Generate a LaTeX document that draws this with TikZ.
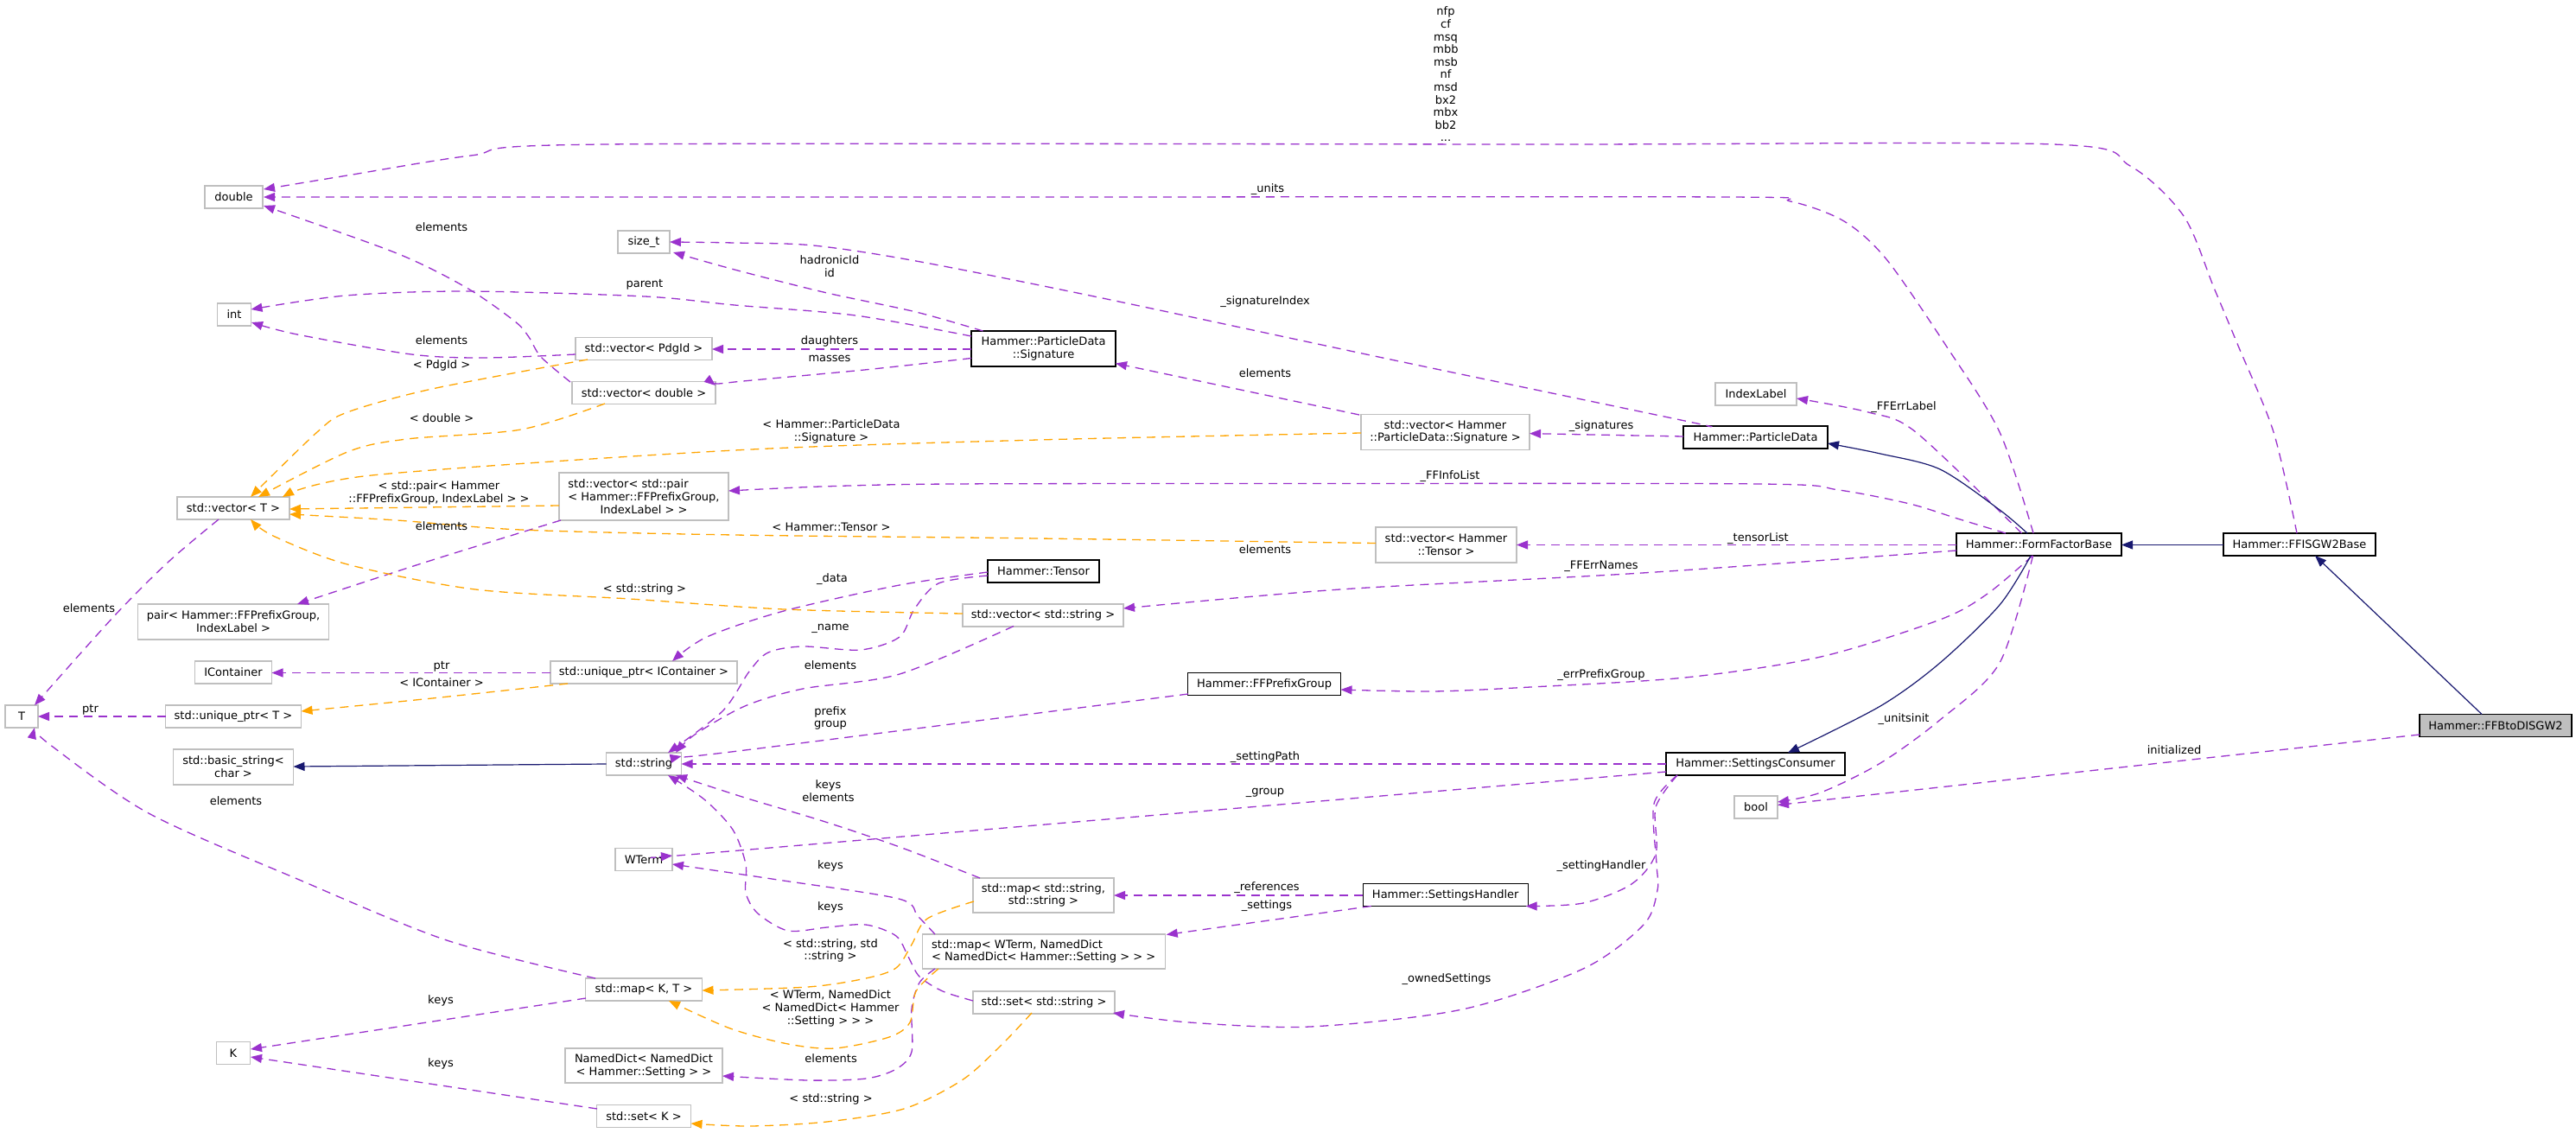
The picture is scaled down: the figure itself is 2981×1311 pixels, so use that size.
\documentclass[tikz,border=0pt]{standalone}
\usepackage{fontspec}
\setmainfont{DejaVu Sans}
\usetikzlibrary{arrows.meta,calc}
\definecolor{grey75}{HTML}{BFBFBF}
\definecolor{orchid}{HTML}{9A32CD}
\definecolor{tplorange}{HTML}{FFA500}
\definecolor{midblue}{HTML}{191970}
\newcommand\dgf{\fontsize{13}{14.8}\selectfont}
\begin{document}
\begin{tikzpicture}[x=1pt,y=-1pt,
  cls/.style={draw=grey75, line width=1.3pt, fill=white, inner sep=0pt, align=center, font=\dgf, minimum height=26pt},
  doc/.style={cls, draw=black},
  rel/.style={draw=orchid, line width=1.3pt, dash pattern=on 10pt off 7pt, -{Triangle[length=13pt,width=10pt]}},
  tpl/.style={rel, draw=tplorange},
  inh/.style={draw=midblue, line width=1.2pt, -{Triangle[length=13pt,width=10pt]}},
  lbl/.style={font=\dgf, align=center, inner sep=0pt},
]
\useasboundingbox[fill=white] (0,0) rectangle (2981,1311);

% ---------- nodes ----------
\node[cls, minimum width=67pt] (double) at (270.5,228) {double};
\node[cls, minimum width=60pt] (sizet) at (745,280) {size\_t};
\node[cls, minimum width=39pt] (int) at (271,364) {int};
\node[cls, minimum width=158pt] (vpdg) at (745,403.5) {std::vector< PdgId >};
\node[cls, minimum width=166pt] (vdbl) at (745,454.5) {std::vector< double >};
\node[cls, minimum width=130pt] (vT) at (270,588) {std::vector< T >};
\node[cls, minimum width=196pt, minimum height=55pt] (vpair) at (745,574.5) {\begin{tabular}[b]{@{}l@{}}std::vector< std::pair\\< Hammer::FFPrefixGroup,\end{tabular}\\IndexLabel > >};
\node[cls, minimum width=221pt, minimum height=41pt] (pair) at (270,719.5) {pair< Hammer::FFPrefixGroup,\\IndexLabel >};
\node[cls, minimum width=89pt] (icont) at (270,778) {IContainer};
\node[cls, minimum width=216pt] (uic) at (745,778) {std::unique\_ptr< IContainer >};
\node[cls, minimum width=38pt] (T) at (25,829) {T};
\node[cls, minimum width=157pt] (upT) at (270,829) {std::unique\_ptr< T >};
\node[cls, minimum width=139pt, minimum height=41pt] (bstr) at (270,887.5) {std::basic\_string<\\char >};
\node[cls, minimum width=87pt] (str) at (745,884) {std::string};
\node[cls, minimum width=66pt] (wterm) at (745,994.5) {WTerm};
\node[cls, minimum width=135pt] (mapKT) at (745,1145) {std::map< K, T >};
\node[cls, minimum width=39pt] (K) at (270,1218.5) {K};
\node[cls, minimum width=182pt, minimum height=40pt] (ndict) at (745,1233) {NamedDict< NamedDict\\< Hammer::Setting > >};
\node[cls, minimum width=109pt] (setK) at (745,1291.5) {std::set< K >};

\node[doc, minimum width=167pt, minimum height=41pt] (sig) at (1207.5,403.5) {Hammer::ParticleData\\::Signature};
\node[doc, minimum width=129pt] (tensor) at (1207.5,661) {Hammer::Tensor};
\node[cls, minimum width=186pt] (vstr) at (1207,712) {std::vector< std::string >};
\node[doc, minimum width=177pt] (ffpg) at (1463,791.5) {Hammer::FFPrefixGroup};
\node[cls, minimum width=163pt, minimum height=40pt] (mapSS) at (1207.5,1036) {std::map< std::string,\\std::string >};
\node[cls, minimum width=281pt, minimum height=40pt, align=left] (mapW) at (1207.7,1101) {std::map< WTerm, NamedDict\\< NamedDict< Hammer::Setting > > >};
\node[cls, minimum width=164pt] (setS) at (1208,1160) {std::set< std::string >};

\node[cls, minimum width=195pt, minimum height=41pt] (vsig) at (1672.5,500) {std::vector< Hammer\\::ParticleData::Signature >};
\node[cls, minimum width=163pt, minimum height=41pt] (vten) at (1673.5,630.5) {std::vector< Hammer\\::Tensor >};
\node[doc, minimum width=191pt] (shandler) at (1672.7,1035.5) {Hammer::SettingsHandler};

\node[cls, minimum width=94pt] (idxl) at (2032,456) {IndexLabel};
\node[doc, minimum width=167pt] (pdata) at (2031.5,506) {Hammer::ParticleData};
\node[doc, minimum width=191pt] (ffb) at (2359.5,630) {Hammer::FormFactorBase};
\node[doc, minimum width=207pt] (scons) at (2031.5,884) {Hammer::SettingsConsumer};
\node[cls, minimum width=50pt] (bool) at (2032,934) {bool};
\node[doc, minimum width=176pt] (ffisgw) at (2661,630) {Hammer::FFISGW2Base};
\node[doc, minimum width=176pt, fill=grey75] (ffbto) at (2888,839.5) {Hammer::FFBtoDISGW2};

% ---------- edge end points ----------
\coordinate (a1) at ($(ffisgw)+(-3,-13)$);   \coordinate (b1) at ($(double)+(34.5,-9)$);
\coordinate (a2) at ($(ffb)+(-6.5,-13)$);    \coordinate (b2) at ($(double)+(34.5,0)$);
\coordinate (a3) at ($(pdata)+(-55.5,-13)$); \coordinate (b3) at ($(sizet)+(30,0)$);
\coordinate (a4) at ($(sig)+(-70,-20.5)$);   \coordinate (b4) at ($(sizet)+(34,12)$);
\coordinate (a5) at ($(sig)+(-83.5,-14.5)$); \coordinate (b5) at ($(int)+(19.5,-6)$);
\coordinate (a7) at ($(sig)+(-83.5,11)$);    \coordinate (b7) at ($(vdbl)+(83,-8.5)$);
\coordinate (a8) at ($(vdbl)+(-85,-12.5)$);  \coordinate (b8) at ($(double)+(34.5,10)$);
\coordinate (a9) at ($(vpdg)+(-79,6.5)$);    \coordinate (b9) at ($(int)+(20,9)$);
\coordinate (a10) at ($(vpdg)+(-65,12.5)$);  \coordinate (b10) at ($(vT)+(20,-13)$);
\coordinate (a11) at ($(vdbl)+(-45,12.5)$);  \coordinate (b11) at ($(vT)+(29,-13)$);
\coordinate (a12) at ($(vsig)+(-97.5,1)$);   \coordinate (b12) at ($(vT)+(57,-13)$);
\coordinate (a14) at ($(vten)+(-81.5,-2)$);  \coordinate (b14) at ($(vT)+(65,7)$);
\coordinate (a15) at ($(vstr)+(-93,-2)$);    \coordinate (b15) at ($(vT)+(20,13)$);
\coordinate (a16) at ($(vT)+(-17,13)$);      \coordinate (b16) at ($(T)+(15,-13)$);
\coordinate (a17) at ($(vpair)+(-96,27.5)$); \coordinate (b17) at ($(pair)+(74,-20.5)$);
\coordinate (a20) at ($(ffb)+(-38.5,-13)$);  \coordinate (b20) at ($(vpair)+(98,-6.5)$);
\coordinate (a21) at ($(ffb)+(-20,-13)$);    \coordinate (b21) at ($(idxl)+(47,5)$);
\coordinate (a23) at ($(ffb)+(-95.5,7)$);    \coordinate (b23) at ($(vstr)+(93,-8)$);
\coordinate (a24) at ($(ffb)+(-7.5,13)$);    \coordinate (b24) at ($(ffpg)+(88.5,6.5)$);
\coordinate (a25) at ($(ffb)+(-7,13)$);      \coordinate (b25) at ($(bool)+(25,-6)$);
\coordinate (a26) at ($(ffb)+(-13.5,-13)$);  \coordinate (b26) at ($(pdata)+(83.5,7)$);
\coordinate (a27) at ($(ffb)+(-9.5,13)$);    \coordinate (b27) at ($(scons)+(37.5,-13)$);
\coordinate (a32) at ($(scons)+(-103.5,9)$); \coordinate (b32) at ($(wterm)+(33,-4.5)$);
\coordinate (a33) at ($(scons)+(-90.5,13)$); \coordinate (b33) at ($(shandler)+(93,13)$);
\coordinate (b34) at ($(setS)+(80,12)$);
\coordinate (a37) at ($(ffpg)+(-88,11.5)$);  \coordinate (b37) at ($(str)+(43.5,-9)$);
\coordinate (a38) at ($(tensor)+(-64.5,1)$); \coordinate (b38) at ($(uic)+(33,-13)$);
\coordinate (a39) at ($(tensor)+(-64.5,5)$); \coordinate (b39) at ($(str)+(28,-13)$);
\coordinate (a40) at ($(vstr)+(-34,12.5)$);  \coordinate (b40) at ($(str)+(37,-13)$);
\coordinate (a41) at ($(mapSS)+(-73.5,-20)$);\coordinate (b41) at ($(str)+(37,13)$);
\coordinate (a42) at ($(mapSS)+(-80.5,7)$);  \coordinate (b42) at ($(mapKT)+(67.5,1)$);
\coordinate (a43) at ($(mapW)+(-125.7,-20)$);\coordinate (b43) at ($(wterm)+(33,5.5)$);
\coordinate (a44) at ($(mapW)+(-125.7,20)$); \coordinate (b44) at ($(ndict)+(91,12)$);
\coordinate (a45) at ($(mapW)+(-121.7,20)$); \coordinate (b45) at ($(mapKT)+(29,13)$);
\coordinate (a46) at ($(setS)+(-82,-2)$);    \coordinate (b46) at ($(str)+(28,13)$);
\coordinate (a47) at ($(setS)+(-14,12)$);    \coordinate (b47) at ($(setK)+(54.5,8.5)$);
\coordinate (a48) at ($(mapKT)+(-56,-13)$);  \coordinate (b48) at ($(T)+(15,13)$);
\coordinate (a52) at ($(uic)+(-88,13)$);     \coordinate (b52) at ($(upT)+(78.5,-6)$);

% ---------- member relations (purple) ----------
\draw[rel] plot[smooth,tension=.5] coordinates {(a1) (2631,500) (2590,400) (2562,333) (2527,250) (2465,192) (2376,167) (1800,167) (700,167) (545,180) (402,203) (b1)};
\draw[rel] plot[smooth,tension=.5] coordinates {(a2) (2314,500) (2252,400) (2183,300) (2134,256) (2072,233) (2000,228) (1200,228) (b2)};
\draw[rel] plot[smooth,tension=.5] coordinates {(a3) (1945,486) (1600,414) (1271,344) (1060,302) (941,284) (850,281) (b3)};
\draw[rel] plot[smooth,tension=.5] coordinates {(a4) (1060,361) (955,338.5) (850,312) (b4)};
\draw[rel] plot[smooth,tension=.5] coordinates {(a5) (990,365) (850,353) (746,343) (540,337) (400,342) (b5)};
\draw[rel] ($(sig)+(-83.5,0.5)$) -- ($(vpdg)+(79,0.5)$);
\draw[rel] plot[smooth,tension=.5] coordinates {(a7) (1000,428) (850,442) (b7)};
\draw[rel] plot[smooth,tension=.5] coordinates {(a8) (626,413) (612,390) (596,372) (540,333) (459,293) (b8)};
\draw[rel] plot[smooth,tension=.5] coordinates {(a9) (560,414) (476,410) (344,387) (b9)};
\draw[rel] plot[smooth,tension=.5] coordinates {(a16) (195,650) (132,713) (b16)};
\draw[rel] plot[smooth,tension=.5] coordinates {(a17) (494,650) (b17)};
\draw[rel] ($(vsig)+(-99.5,-20)$) -- ($(sig)+(83.5,17)$);
\draw[rel] ($(pdata)+(-83.5,-1)$) -- ($(vsig)+(97.5,1.6)$);
\draw[rel] plot[smooth,tension=.5] coordinates {(a20) (2265,600) (2210,583) (2128,567) (2038,560) (1500,559.5) (1100,560) (950,563) (b20)};
\draw[rel] plot[smooth,tension=.5] coordinates {(a21) (2217,500) (2162,477) (b21)};
\draw[rel] ($(ffb)+(-95.5,0.5)$) -- ($(vten)+(81.5,0)$);
\draw[rel] plot[smooth,tension=.5] coordinates {(a23) (1900,663) (1551,682) (b23)};
\draw[rel] plot[smooth,tension=.5] coordinates {(a24) (2300,687) (2245,717) (2107,760) (1950,784) (1762,795.5) (1657,800) (b24)};
\draw[rel] plot[smooth,tension=.5] coordinates {(a25) (2314,767) (2245,833) (2176,883) (2107,917) (b25)};
\draw[rel] ($(ffbto)+(-88,10.5)$) -- ($(bool)+(25,-2.5)$);
\draw[rel] ($(scons)+(-103.5,0)$) -- ($(str)+(43.5,0)$);
\draw[rel] plot[smooth,tension=.5] coordinates {(a32) (850,984.5) (b32)};
\draw[rel] plot[smooth,tension=.5] coordinates {(a33) (1916,934) (1916,988) (1888,1023) (1832,1045) (b33)};
\draw[rel] plot[smooth,tension=.5] coordinates {(a33) (1914,930) (1917,1000) (1918,1030) (1902,1070) (1832,1121) (1692,1168) (1516,1188) (1376,1183) (b34)};
\draw[rel] ($(shandler)+(-95.5,0.5)$) -- ($(mapSS)+(81.5,0)$);
\draw[rel] ($(shandler)+(-86,13)$) -- ($(mapW)+(142,-19.5)$);
\draw[rel] plot[smooth,tension=.5] coordinates {(a37) (850,869.5) (b37)};
\draw[rel] plot[smooth,tension=.5] coordinates {(a38) (1041,677) (907,707) (818,737) (b38)};
\draw[rel] plot[smooth,tension=.5] coordinates {(a39) (1086,675) (1058,705) (1041,737) (996,752) (929,748) (889,755) (867,777) (836,823) (b39)};
\draw[rel] plot[smooth,tension=.5] coordinates {(a40) (1041,780) (929,797) (862,817) (804,850) (b40)};
\draw[rel] plot[smooth,tension=.5] coordinates {(a41) (1041,980) (952,950) (862,923) (b41)};
\draw[rel] plot[smooth,tension=.5] coordinates {(a43) (1062,1060) (1040,1040) (900,1018) (b43)};
\draw[rel] plot[smooth,tension=.5] coordinates {(a44) (1064,1137) (1055,1167) (1055,1217) (1037,1237) (1002,1248) (935,1250) (b44)};
\draw[rel] plot[smooth,tension=.5] coordinates {(a46) (1091,1147) (1064,1130) (1051,1107) (1037,1083) (1002,1070) (957,1073) (912,1077) (877,1057) (863,1033) (863,1000) (848,960) (815,925) (b46)};
\draw[rel] plot[smooth,tension=.5] coordinates {(a48) (517,1088) (344,1017) (172,941) (57,861) (b48)};
\draw[rel] ($(mapKT)+(-67,10)$) -- ($(K)+(20,-4.5)$);
\draw[rel] ($(setK)+(-54,-8.5)$) -- ($(K)+(20,4.5)$);
\draw[rel] ($(uic)+(-108,0.5)$) -- ($(icont)+(44.5,0.5)$);
\draw[rel] ($(upT)+(-78.5,0)$) -- ($(T)+(19,0)$);

% ---------- template instances (orange) ----------
\draw[tpl] plot[smooth,tension=.5] coordinates {(a10) (500,450) (402,477) (367,500) (b10)};
\draw[tpl] plot[smooth,tension=.5] coordinates {(a11) (603,497) (471,508) (402,523) (b11)};
\draw[tpl] plot[smooth,tension=.5] coordinates {(a12) (1201,509) (850,521) (430,550) (b12)};
\draw[tpl] ($(vpair)+(-98,10.5)$) -- ($(vT)+(65,1)$);
\draw[tpl] plot[smooth,tension=.5] coordinates {(a14) (1201,623) (850,619) (603,613) (459,602) (b14)};
\draw[tpl] plot[smooth,tension=.5] coordinates {(a15) (907,705) (729,693) (550,682) (402,653) (316,620) (b15)};
\draw[tpl] plot[smooth,tension=.5] coordinates {(a42) (1073,1063) (1055,1093) (1037,1120) (1002,1132) (935,1142) (b42)};
\draw[tpl] plot[smooth,tension=.5] coordinates {(a45) (1060,1147) (1053,1183) (1029,1200) (966,1213) (912,1208) (845,1190) (b45)};
\draw[tpl] plot[smooth,tension=.5] coordinates {(a47) (1158,1210) (1113,1250) (1046,1283) (957,1298) (868,1303) (b47)};
\draw[tpl] plot[smooth,tension=.5] coordinates {(a52) (500,808) (b52)};

% ---------- inheritance (blue) ----------
\draw[inh] plot[smooth,tension=.5] coordinates {(a26) (2314,590) (2245,543) (2176,525) (b26)};
\draw[inh] plot[smooth,tension=.5] coordinates {(a27) (2314,700) (2245,767) (2176,817) (b27)};
\draw[inh] ($(ffisgw)+(-88,0.5)$) -- ($(ffb)+(95.5,0.5)$);
\draw[inh] ($(ffbto)+(-16,-13)$) -- ($(ffisgw)+(18,13)$);
\draw[inh] ($(str)+(-43.5,0)$) -- ($(bstr)+(69.5,-0.5)$);

% ---------- edge labels ----------
\node[lbl, font=\fontsize{13}{14.6}\selectfont] (Lnfp) at (1673,86) {nfp\\cf\\msq\\mbb\\msb\\nf\\msd\\bx2\\mbx\\bb2\\...};
\node[lbl] (Lunits) at (1467,219) {\_units};
\node[lbl] (Lel1) at (511,263) {elements};
\node[lbl] (Lhad) at (960,308) {hadronicId\\id};
\node[lbl] (Lsigidx) at (1464,349) {\_signatureIndex};
\node[lbl] (Lparent) at (746,329) {parent};
\node[lbl] (Lel2) at (511,394) {elements};
\node[lbl] (Ldau) at (960,395) {daughters};
\node[lbl] (Lmass) at (960,415) {masses};
\node[lbl] (Lpdg) at (511,423) {< PdgId >};
\node[lbl] (Lel3) at (1464,431.5) {elements};
\node[lbl] (Lerrlab) at (2203,471) {\_FFErrLabel};
\node[lbl] (Ldbl) at (511,484) {< double >};
\node[lbl] (Lsigt) at (962,499.5) {< Hammer::ParticleData\\::Signature >};
\node[lbl] (Lsigs) at (1853,493) {\_signatures};
\node[lbl] (Linfo) at (1678,551.5) {\_FFInfoList};
\node[lbl] (Lpairt) at (508,570.5) {< std::pair< Hammer\\::FFPrefixGroup, IndexLabel > >};
\node[lbl] (Lel4) at (511,609) {elements};
\node[lbl] (Ltent) at (962,610) {< Hammer::Tensor >};
\node[lbl] (Ltlist) at (2034.5,622.7) {\_tensorList};
\node[lbl] (Lel5) at (1464,635.6) {elements};
\node[lbl] (Lerrn) at (1853,655) {\_FFErrNames};
\node[lbl] (Ldata) at (963,670) {\_data};
\node[lbl] (Lstrt) at (746,682) {< std::string >};
\node[lbl] (Lel6) at (103,704) {elements};
\node[lbl] (Lname) at (961,727) {\_name};
\node[lbl] (Lel7) at (961,770) {elements};
\node[lbl] (Lptr1) at (511,771) {ptr};
\node[lbl] (Lerrpg) at (1853,781) {\_errPrefixGroup};
\node[lbl] (Licont) at (511,790) {< IContainer >};
\node[lbl] (Lptr2) at (104.5,821) {ptr};
\node[lbl] (Lprefix) at (961,831) {prefix\\group};
\node[lbl] (Lunitsinit) at (2203,832) {\_unitsinit};
\node[lbl] (Linit) at (2516,868) {initialized};
\node[lbl] (Lspath) at (1464,876) {\_settingPath};
\node[lbl] (Lkeyel) at (958.5,915.5) {keys\\elements};
\node[lbl] (Lgroup) at (1464,917) {\_group};
\node[lbl] (Lel8) at (273,927) {elements};
\node[lbl] (Lkeys1) at (961,1002) {keys};
\node[lbl] (Lshand) at (1853,1002) {\_settingHandler};
\node[lbl] (Lrefs) at (1466,1027) {\_references};
\node[lbl] (Lsets) at (1466,1048) {\_settings};
\node[lbl] (Lkeys2) at (961,1050) {keys};
\node[lbl] (Lsst) at (961,1100) {< std::string, std\\::string >};
\node[lbl] (Lowned) at (1674,1133) {\_ownedSettings};
\node[lbl] (Lkeys3) at (510,1158) {keys};
\node[lbl] (Lwt) at (961,1167) {< WTerm, NamedDict\\< NamedDict< Hammer\\::Setting > > >};
\node[lbl] (Lel9) at (961.6,1225) {elements};
\node[lbl] (Lkeys4) at (510,1231) {keys};
\node[lbl] (Lsst2) at (961.6,1272) {< std::string >};
\end{tikzpicture}
\end{document}
